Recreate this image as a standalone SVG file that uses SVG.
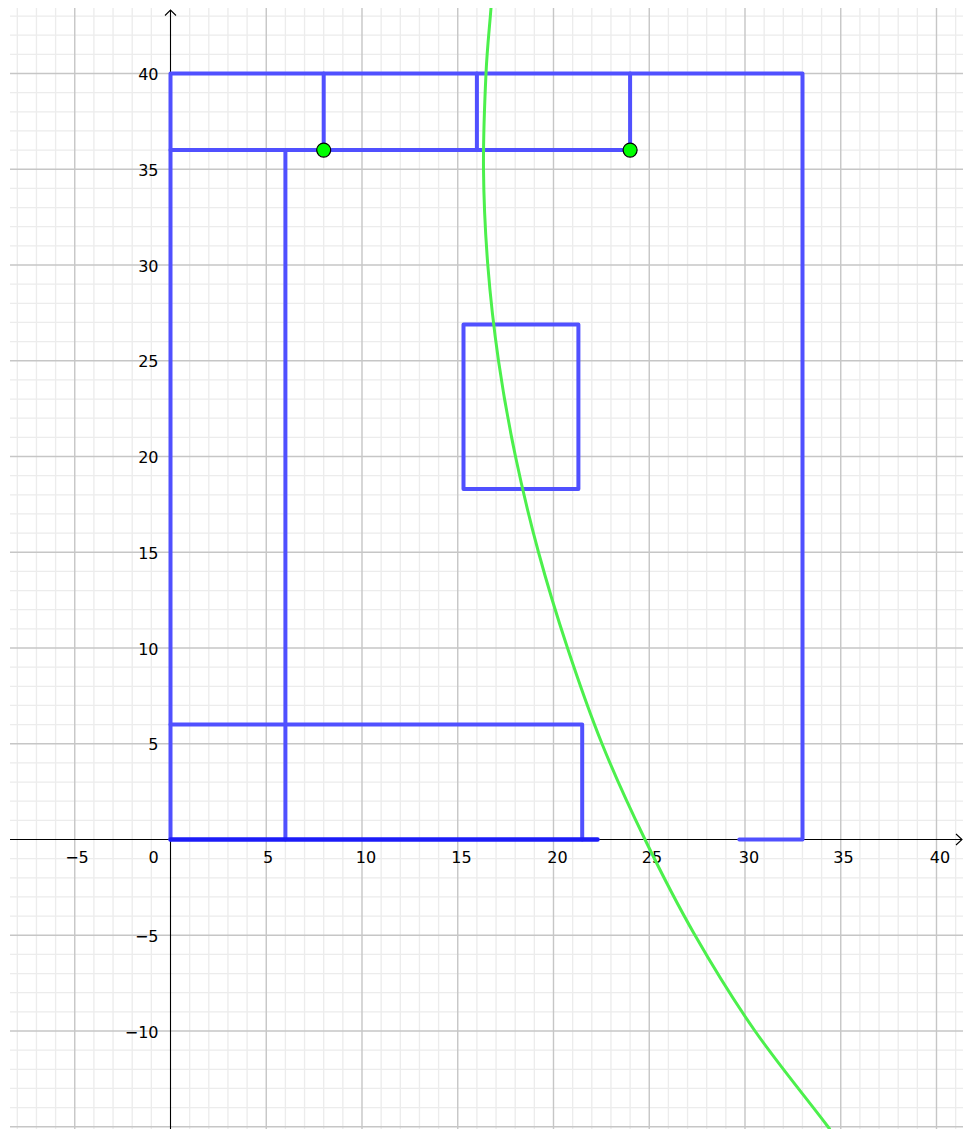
<svg xmlns="http://www.w3.org/2000/svg" width="963" height="1129" viewBox="0 0 963 1129">
<style>
.minor{stroke:#ececec;stroke-width:1.3;fill:none}
.major{stroke:#c6c6c6;stroke-width:1.4;fill:none}
.axis{stroke:#000;stroke-width:1.1;fill:none}
.seg{stroke:#5050ff;stroke-width:4;fill:none;stroke-linecap:round;stroke-linejoin:round}
.dark{stroke:#1c1cf8;stroke-width:4.5;fill:none;stroke-linecap:round}
.curve{stroke:#4cf04c;stroke-width:3;fill:none}
.pt{fill:#00ff00;stroke:#000;stroke-width:1.2}
text{font-family:"DejaVu Sans","Liberation Sans",sans-serif;font-size:16px;fill:#000}
.xl{text-anchor:middle}
.yl{text-anchor:end}
</style>
<rect x="0" y="0" width="963" height="1129" fill="#fff"/>
<g id="grid">
<path class="minor" d="M17.3 8V1129M36.45 8V1129M55.6 8V1129M93.9 8V1129M113.05 8V1129M132.2 8V1129M151.35 8V1129M189.65 8V1129M208.8 8V1129M227.95 8V1129M247.1 8V1129M285.4 8V1129M304.55 8V1129M323.7 8V1129M342.85 8V1129M381.15 8V1129M400.3 8V1129M419.45 8V1129M438.6 8V1129M476.9 8V1129M496.05 8V1129M515.2 8V1129M534.35 8V1129M572.65 8V1129M591.8 8V1129M610.95 8V1129M630.1 8V1129M668.4 8V1129M687.55 8V1129M706.7 8V1129M725.85 8V1129M764.15 8V1129M783.3 8V1129M802.45 8V1129M821.6 8V1129M859.9 8V1129M879.05 8V1129M898.2 8V1129M917.35 8V1129M955.65 8V1129"/>
<path class="minor" d="M10 16.05H963M10 35.2H963M10 54.35H963M10 92.65H963M10 111.8H963M10 130.95H963M10 150.1H963M10 188.4H963M10 207.55H963M10 226.7H963M10 245.85H963M10 284.15H963M10 303.3H963M10 322.45H963M10 341.6H963M10 379.9H963M10 399.05H963M10 418.2H963M10 437.35H963M10 475.65H963M10 494.8H963M10 513.95H963M10 533.1H963M10 571.4H963M10 590.55H963M10 609.7H963M10 628.85H963M10 667.15H963M10 686.3H963M10 705.45H963M10 724.6H963M10 762.9H963M10 782.05H963M10 801.2H963M10 820.35H963M10 858.65H963M10 877.8H963M10 896.95H963M10 916.1H963M10 954.4H963M10 973.55H963M10 992.7H963M10 1011.85H963M10 1050.15H963M10 1069.3H963M10 1088.45H963M10 1107.6H963"/>
<path class="major" d="M74.75 8V1129M266.25 8V1129M362 8V1129M457.75 8V1129M553.5 8V1129M649.25 8V1129M745 8V1129M840.75 8V1129M936.5 8V1129"/>
<path class="major" d="M10 73.5H963M10 169.25H963M10 265H963M10 360.75H963M10 456.5H963M10 552.25H963M10 648H963M10 743.75H963M10 935.25H963M10 1031H963M10 1126.75H963"/>
</g>
<g id="axes">
<path class="axis" d="M10 839.5H962M956 834L962 839.5L956 845"/>
<path class="axis" d="M170.5 1129V10M165 15.5L170.5 10L176 15.5"/>
</g>
<g id="labels">
<text class="yl" x="158.5" y="80">40</text>
<text class="yl" x="158.5" y="175.7">35</text>
<text class="yl" x="158.5" y="271.5">30</text>
<text class="yl" x="158.5" y="367.2">25</text>
<text class="yl" x="158.5" y="463">20</text>
<text class="yl" x="158.5" y="558.7">15</text>
<text class="yl" x="158.5" y="654.5">10</text>
<text class="yl" x="158.5" y="750.2">5</text>
<text class="yl" x="158.5" y="941.7">−5</text>
<text class="yl" x="158.5" y="1037.5">−10</text>
<text class="xl" x="77" y="863">−5</text>
<text class="xl" x="153.5" y="863">0</text>
<text class="xl" x="268" y="863">5</text>
<text class="xl" x="366" y="863">10</text>
<text class="xl" x="461.5" y="863">15</text>
<text class="xl" x="557.5" y="863">20</text>
<text class="xl" x="652" y="863">25</text>
<text class="xl" x="749" y="863">30</text>
<text class="xl" x="843.5" y="863">35</text>
<text class="xl" x="940" y="863">40</text>
</g>
<g id="shapes">
<path class="seg" d="M170.5 839.5V73.5H802.5V839.5H739.3"/>
<path class="seg" d="M170.5 150.1H630.1"/>
<path class="seg" d="M323.7 73.5V150.1M476.9 73.5V150.1M630.1 73.5V150.1"/>
<path class="seg" d="M285.4 150.1V839.5"/>
<path class="seg" d="M170.5 724.6H582.2V839.5"/>
<rect class="seg" x="463.5" y="324.4" width="114.9" height="164.7"/>
<path class="dark" d="M170.5 839.5H597.5"/>
</g>
<g id="curve">
<path class="curve" d="M491 8C489.33 29.83 487.25 46.6 486 73.5C484.75 100.4 483.2 137.3 483.5 169.25C483.8 201.2 485.3 233.1 487.8 265C490.3 296.9 493.9 328.8 498.5 360.75C503.1 392.7 508.8 424.6 515.5 456.5C522.2 488.4 529.8 520.3 538.5 552.25C547.2 584.2 556.9 616.1 567.5 648C578.1 679.9 589.1 711.8 602 743.75C614.9 775.7 629.5 807.6 645 839.5C660.5 871.4 676.7 903.3 695 935.25C713.3 967.2 732.8 999.1 755 1031C777.2 1062.9 803.7 1094.8 828 1126.75L830 1129.5"/>
</g>
<g id="points">
<circle class="pt" cx="323.7" cy="150.1" r="7"/>
<circle class="pt" cx="630.1" cy="150.1" r="7"/>
</g>
</svg>
